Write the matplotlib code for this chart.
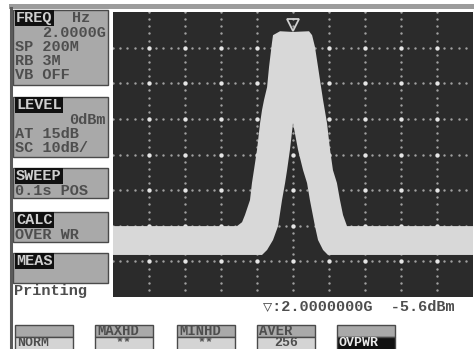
import numpy as np
import matplotlib.pyplot as plt
from matplotlib.patches import Rectangle
from matplotlib.transforms import offset_copy

# trace band: upper (max) and lower (min) edges, MHz offset from centre vs dBm
upper_mhz = [-100, -31.1, -28.3, -26.7, -23.9, -22.8, -21.7, -20.0, -18.3, -17.2,
             -16.1, -14.4, -13.3, -11.7, -11.1, -7.2, 0.0, 8.9, 10.6, 12.2, 13.9,
             15.6, 16.7, 18.9, 20.6, 22.2, 24.4, 26.1, 27.8, 30.0, 100]
upper_dbm = [-60.1, -60.1, -59.0, -57.0, -52.8, -48.0, -44.4, -38.7, -31.2, -27.5,
             -24.7, -21.1, -15.4, -8.7, -6.5, -5.4, -5.6, -5.4, -6.5, -9.8, -15.4,
             -21.1, -24.7, -31.2, -38.7, -44.4, -48.0, -52.8, -57.0, -60.1, -60.1]
lower_mhz = [-100, -17.2, -14.4, -11.1, -8.3, -6.1, -4.4, -3.3, -1.7, 0.0,
             2.8, 5.6, 7.8, 9.4, 12.2, 13.9, 16.7, 19.4, 100]
lower_dbm = [-68.2, -68.2, -66.8, -64.0, -60.1, -52.8, -48.0, -44.4, -38.7, -31.2,
             -38.7, -44.4, -48.0, -52.8, -60.1, -64.0, -66.8, -68.2, -68.2]

center_ghz = 2.0
span_mhz = 200
ref_dbm = 0
div_db = 10
n_div_y = 8
mkr_mhz = 0.0
mkr_dbm = -5.6

# side menu: (header, lines)
menus = [
    ('FREQ', ['2.0000G', 'SP 200M', 'RB 3M', 'VB OFF']),
    ('LEVEL', ['0dBm', 'AT 15dB', 'SC 10dB/']),
    ('SWEEP', ['0.1s POS']),
    ('CALC', ['OVER WR']),
    ('MEAS', []),
]
soft_top = ['', 'MAXHD', 'MINHD', 'AVER', '']
soft_bot = ['NORM', '**', '**', '256', 'OVPWR']

W, H = 474, 349
fig = plt.figure(figsize=(W / 100, H / 100), dpi=100)
fig.patch.set_facecolor('white')

mono = ['Liberation Mono', 'DejaVu Sans Mono']
txt_c = '#4e4e4e'
panel_c = '#a9a9a9'
edge_c = '#4a4a4a'
fs = 11

# screen frame, drawn in pixel units
base = fig.add_axes([0, 0, 1, 1])
base.set_xlim(0, W)
base.set_ylim(H, 0)
base.axis('off')
base.add_patch(Rectangle((9, 4), W - 9, 5, fc='#9c9c9c', ec='none'))
base.plot([11, 11], [8, H], color='#5a5a5a', lw=2.2)

# side panels
boxes = [(10, 85), (97, 157), (168, 198), (212, 242), (253, 283)]
for (y0, y1), (head, lines) in zip(boxes, menus):
    base.add_patch(Rectangle((13, y0), 95, y1 - y0, fc=panel_c, ec=edge_c, lw=1))
    base.text(16, y0 + 8, head, family=mono, fontsize=fs, weight='bold',
              color='#cfcfcf', va='center', ha='left',
              bbox=dict(boxstyle='square,pad=0.08', fc='#111111', ec='none'))
    for i, s in enumerate(lines):
        yy = y0 + 23 + i * 14
        if s.startswith(('2.', '0dB')):
            base.text(106, yy, s, family=mono, fontsize=fs, weight='bold',
                      color=txt_c, va='center', ha='right')
        else:
            base.text(15, yy, s, family=mono, fontsize=fs, weight='bold',
                      color=txt_c, va='center', ha='left')
base.text(72, 18, 'Hz', family=mono, fontsize=fs, weight='bold',
          color=txt_c, va='center', ha='left')
base.text(14, 291, 'Printing', family=mono, fontsize=fs, weight='bold',
          color=txt_c, va='center', ha='left')

# marker readout under the graticule
mkr_txt = '\u25bd:{:.7f}G  {}dBm'.format(center_ghz + mkr_mhz / 1000, mkr_dbm)
base.text(455, 306, mkr_txt, family=mono, fontsize=fs, weight='bold',
          color=txt_c, va='center', ha='right')

# soft keys along the bottom
key_x = [15, 95, 177, 257, 337]
for x0, top, bot in zip(key_x, soft_top, soft_bot):
    base.add_patch(Rectangle((x0, 325), 58, 12, fc=panel_c, ec=edge_c, lw=1))
    inv = bot == 'OVPWR'
    base.add_patch(Rectangle((x0, 337), 58, 14, fc='#111111' if inv else '#d4d4d4',
                             ec=edge_c, lw=1))
    if top:
        base.text(x0 + 2, 331, top, family=mono, fontsize=10, weight='bold',
                  color=txt_c, va='center', ha='left')
    centred = bot in ('**', '256')
    base.text(x0 + 29 if centred else x0 + 2, 342.5, bot,
              family=mono, fontsize=9.5, weight='bold',
              color='#e8e8e8' if inv else txt_c, va='center',
              ha='center' if centred else 'left')

# graticule
left, top, right, bottom = 113, 12, 473, 297
ax = fig.add_axes([left / W, 1 - bottom / H, (right - left) / W, (bottom - top) / H])
ax.set_facecolor('#2b2b2b')
ax.set_xlim(-span_mhz / 2, span_mhz / 2)
ax.set_ylim(ref_dbm - n_div_y * div_db, ref_dbm)
for sp in ax.spines.values():
    sp.set_visible(False)
ax.set_xticks([])
ax.set_yticks([])

xdiv = span_mhz / 10
vx = np.arange(-span_mhz / 2 + xdiv, span_mhz / 2, xdiv)
hy = np.arange(ref_dbm - div_db, ref_dbm - n_div_y * div_db, -div_db)
fine_y = np.arange(ref_dbm, ref_dbm - n_div_y * div_db, -div_db / 5)
fine_x = np.arange(-span_mhz / 2, span_mhz / 2, xdiv / 5)
for x in vx:
    ax.scatter(np.full(len(fine_y), x), fine_y, s=3, c='#a0a0a0', lw=0, zorder=1)
for y in hy:
    ax.scatter(fine_x, np.full(len(fine_x), y), s=3, c='#a0a0a0', lw=0, zorder=1)
gx, gy = np.meshgrid(vx, hy)
ax.scatter(gx.ravel(), gy.ravel(), s=10, c='#e6e6e6', lw=0, zorder=1)

# trace band between max-hold and min-hold
ax.fill(upper_mhz + lower_mhz[::-1], upper_dbm + lower_dbm[::-1],
        color='#d8d8d8', lw=0, zorder=2)

# peak marker
mk_tr = offset_copy(ax.transData, fig=fig, x=0, y=7, units='dots')
ax.plot(mkr_mhz, mkr_dbm, marker='v', ms=8, mfc='none', mec='#d0d0d0',
        mew=1.3, transform=mk_tr, zorder=3, clip_on=False)

fig.savefig('out.png', dpi=100)
